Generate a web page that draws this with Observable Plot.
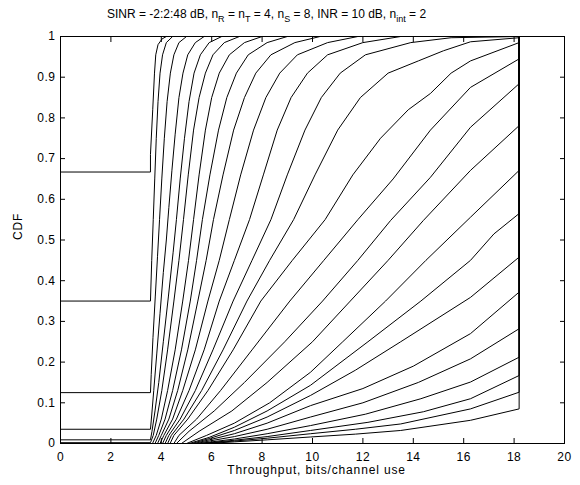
<!DOCTYPE html>
<html><head><meta charset="utf-8">
<script src="https://cdn.jsdelivr.net/npm/d3@7"></script>
<script src="https://cdn.jsdelivr.net/npm/@observablehq/plot@0.6"></script>
<style>
body{margin:0;background:#fff;width:580px;height:485px;overflow:hidden;font-family:Arial,"Liberation Sans",sans-serif;color:#000}
#title{position:relative;height:30px;font-size:12px;white-space:nowrap}
#title span{position:absolute;left:107px;top:7px}
#title sub{font-size:9px;vertical-align:-4px;line-height:0}
#chart svg text{letter-spacing:0.5px}
#chart svg .lbl text{letter-spacing:0.85px}
</style></head>
<body>
<div id="title"><span>SINR = -2:2:48 dB, n<sub>R</sub> = n<sub>T</sub> = 4, n<sub>S</sub> = 8, INR = 10 dB, n<sub>int</sub> = 2</span></div>
<div id="chart"></div>
<script>
const sinrDb = [-2,0,2,4,6,8,10,12,14,16,18,20,22,24,26,28,30,32,34,36,38,40,42,44,46,48];
const xTicks = [0,2,4,6,8,10,12,14,16,18,20];
const yTicks = [0,0.1,0.2,0.3,0.4,0.5,0.6,0.7,0.8,0.9,1];
const xLabel = "Throughput, bits/channel use";
const yLabel = "CDF";

// CDF curves: [throughput, CDF] points, one list per SINR value
const curvePoints = [
  [[0,0],[0,0.667],[3.57,0.667],[3.57,0.71],[3.66,0.82],[3.73,0.91],[3.78,0.955],[3.87,0.98],[4.03,0.994],[4.2,1],[18.2,1]],
  [[0,0],[0,0.35],[3.57,0.35],[3.62,0.45],[3.68,0.55],[3.74,0.65],[3.8,0.75],[3.87,0.84],[3.95,0.91],[4.05,0.955],[4.2,0.985],[4.45,1],[18.2,1]],
  [[0,0],[0,0.125],[3.57,0.125],[3.6,0.17],[3.67,0.26],[3.76,0.36],[3.85,0.46],[3.93,0.55],[4.02,0.65],[4.12,0.75],[4.23,0.84],[4.36,0.91],[4.5,0.955],[4.7,0.985],[5.0,1],[18.2,1]],
  [[0,0],[0,0.035],[3.57,0.035],[3.62,0.07],[3.7,0.13],[3.82,0.22],[3.95,0.32],[4.08,0.42],[4.2,0.5],[4.3,0.58],[4.42,0.67],[4.55,0.76],[4.7,0.85],[4.86,0.91],[5.05,0.955],[5.35,0.985],[5.7,1],[18.2,1]],
  [[0,0],[0,0.009],[3.57,0.009],[3.63,0.03],[3.75,0.08],[3.9,0.15],[4.08,0.25],[4.28,0.36],[4.47,0.47],[4.6,0.55],[4.75,0.65],[4.92,0.75],[5.1,0.84],[5.3,0.91],[5.55,0.955],[5.9,0.985],[6.4,1],[18.2,1]],
  [[0,0],[0,0.002],[3.57,0.002],[3.68,0.02],[3.82,0.06],[4.02,0.13],[4.25,0.23],[4.5,0.35],[4.7,0.45],[4.88,0.55],[5.07,0.66],[5.28,0.77],[5.5,0.85],[5.75,0.91],[6.05,0.955],[6.5,0.985],[7.1,1],[18.2,1]],
  [[0,0],[3.65,0],[3.8,0.02],[4.0,0.06],[4.25,0.13],[4.55,0.23],[4.85,0.35],[5.08,0.45],[5.28,0.55],[5.5,0.66],[5.75,0.77],[6.0,0.85],[6.3,0.91],[6.7,0.955],[7.3,0.985],[8.0,1],[18.2,1]],
  [[0,0],[3.75,0],[3.9,0.02],[4.15,0.06],[4.45,0.13],[4.8,0.23],[5.15,0.35],[5.4,0.45],[5.63,0.55],[5.93,0.66],[6.27,0.77],[6.6,0.85],[6.98,0.91],[7.45,0.955],[8.2,0.985],[9.0,1],[18.2,1]],
  [[0,0],[3.85,0],[4.0,0.02],[4.3,0.06],[4.65,0.13],[5.05,0.23],[5.45,0.35],[5.78,0.45],[6.07,0.55],[6.45,0.66],[6.87,0.77],[7.3,0.85],[7.75,0.91],[8.35,0.955],[9.3,0.985],[10.3,1],[18.2,1]],
  [[0,0],[3.95,0],[4.1,0.02],[4.45,0.06],[4.85,0.13],[5.35,0.23],[5.85,0.35],[6.3,0.45],[6.7,0.55],[7.15,0.66],[7.66,0.77],[8.15,0.85],[8.7,0.91],[9.4,0.955],[10.6,0.985],[11.8,1],[18.2,1]],
  [[0,0],[4.05,0],[4.2,0.02],[4.6,0.06],[5.1,0.13],[5.7,0.23],[6.3,0.35],[6.9,0.45],[7.5,0.55],[8.05,0.66],[8.6,0.77],[9.15,0.85],[9.8,0.91],[10.6,0.955],[12.0,0.985],[13.5,1],[18.2,1]],
  [[0,0],[4.15,0],[4.3,0.02],[4.75,0.06],[5.35,0.13],[6.05,0.23],[6.85,0.35],[7.6,0.45],[8.35,0.55],[9.0,0.66],[9.7,0.77],[10.35,0.85],[11.1,0.91],[12.1,0.955],[13.9,0.985],[15.5,0.997],[18.2,1]],
  [[0,0],[4.25,0],[4.4,0.02],[4.9,0.06],[5.6,0.13],[6.45,0.23],[7.4,0.35],[8.3,0.45],[9.25,0.55],[10.1,0.66],[11.0,0.77],[11.9,0.85],[13.0,0.91],[14.2,0.94],[15.2,0.965],[16.27,0.987],[18.2,0.997],[18.2,1]],
  [[0,0],[4.35,0],[4.5,0.02],[5.05,0.06],[5.85,0.13],[6.85,0.23],[7.95,0.35],[9.2,0.45],[10.5,0.55],[11.6,0.66],[12.7,0.75],[13.8,0.82],[14.68,0.86],[15.5,0.91],[16.27,0.94],[18.2,0.985],[18.2,1]],
  [[0,0],[4.5,0],[4.7,0.02],[5.4,0.06],[6.35,0.13],[7.6,0.23],[9.1,0.35],[10.45,0.45],[11.8,0.55],[13.2,0.65],[14.68,0.77],[16.27,0.875],[18.2,0.945],[18.2,1]],
  [[0,0],[4.6,0],[5.1,0.03],[6.1,0.08],[7.3,0.15],[8.9,0.25],[10.4,0.35],[11.8,0.45],[13.1,0.548],[14.68,0.654],[16.27,0.777],[18.2,0.884],[18.2,1]],
  [[0,0],[4.8,0],[5.5,0.03],[6.8,0.08],[8.2,0.15],[10.0,0.25],[11.5,0.35],[13.0,0.45],[14.4,0.548],[16.27,0.671],[18.2,0.781],[18.2,1]],
  [[0,0],[5.0,0],[5.8,0.02],[6.9,0.05],[8.3,0.1],[9.92,0.175],[11.2,0.25],[12.9,0.35],[14.5,0.45],[16.27,0.556],[18.2,0.671],[18.2,1]],
  [[0,0],[5.1,0],[5.9,0.015],[6.9,0.04],[8.2,0.08],[9.92,0.143],[12.2,0.25],[14.3,0.35],[16.27,0.45],[17.2,0.515],[18.2,0.565],[18.2,1]],
  [[0,0],[5.2,0],[5.9,0.012],[6.9,0.032],[8.2,0.065],[9.92,0.118],[11.7,0.18],[13.5,0.25],[16.27,0.359],[18.2,0.458],[18.2,1]],
  [[0,0],[5.3,0],[5.9,0.009],[6.9,0.024],[8.2,0.05],[9.92,0.093],[12.0,0.135],[14.0,0.19],[16.27,0.27],[18.2,0.372],[18.2,1]],
  [[0,0],[5.4,0],[5.9,0.006],[6.9,0.017],[8.2,0.035],[9.92,0.065],[12.0,0.1],[14.2,0.15],[16.27,0.208],[18.2,0.282],[18.2,1]],
  [[0,0],[5.5,0],[6.0,0.004],[6.9,0.011],[8.2,0.024],[9.92,0.044],[12.1,0.072],[14.3,0.11],[16.27,0.151],[18.2,0.212],[18.2,1]],
  [[0,0],[5.6,0],[6.9,0.008],[8.2,0.017],[9.92,0.032],[12.2,0.052],[14.4,0.078],[16.27,0.11],[18.2,0.167],[18.2,1]],
  [[0,0],[5.7,0],[6.9,0.006],[8.2,0.013],[9.92,0.024],[11.7,0.035],[13.5,0.048],[16.27,0.085],[18.2,0.126],[18.2,1]],
  [[0,0],[5.8,0],[6.9,0.004],[8.2,0.009],[9.92,0.016],[11.7,0.023],[13.5,0.032],[16.27,0.057],[18.2,0.085],[18.2,1]]
];

const rows = curvePoints.flatMap((pts, k) => pts.map(([x, y]) => ({sinr: sinrDb[k], x, y})));

const chart = Plot.plot({
  width: 580,
  height: 455,
  marginTop: 6,
  marginBottom: 42,
  marginLeft: 60,
  marginRight: 16,
  x: {domain: [0, 20], label: null},
  y: {domain: [0, 1], label: null},
  style: {fontFamily: "Arial, 'Liberation Sans', sans-serif", fontSize: "12px", color: "black", background: "white"},
  marks: [
    Plot.line(rows, {x: "x", y: "y", z: "sinr", stroke: "black", strokeWidth: 1}),
    Plot.frame({stroke: "black", strokeWidth: 1}),
    Plot.axisX(xTicks, {anchor: "bottom", tickSize: 0, tickPadding: 9, tickFormat: d => String(d), label: null}),
    Plot.axisX(xTicks, {anchor: "bottom", tickSize: -5, tickFormat: () => "", label: null}),
    Plot.axisX(xTicks, {anchor: "top", tickSize: -5, tickFormat: () => "", label: null}),
    Plot.axisY(yTicks, {anchor: "left", tickSize: 0, tickPadding: 5, tickFormat: d => String(d), label: null}),
    Plot.axisY(yTicks, {anchor: "left", tickSize: -5, tickFormat: () => "", label: null}),
    Plot.axisY(yTicks, {anchor: "right", tickSize: -5, tickFormat: () => "", label: null}),
    Plot.text([xLabel], {text: d => d, frameAnchor: "bottom", dy: 30, dx: 4, fontSize: 12, className: "lbl"}),
    Plot.text([yLabel], {text: d => d, frameAnchor: "left", dx: -42, rotate: -90, fontSize: 12, className: "lbl"})
  ]
});
document.getElementById("chart").appendChild(chart);
</script>
</body></html>
